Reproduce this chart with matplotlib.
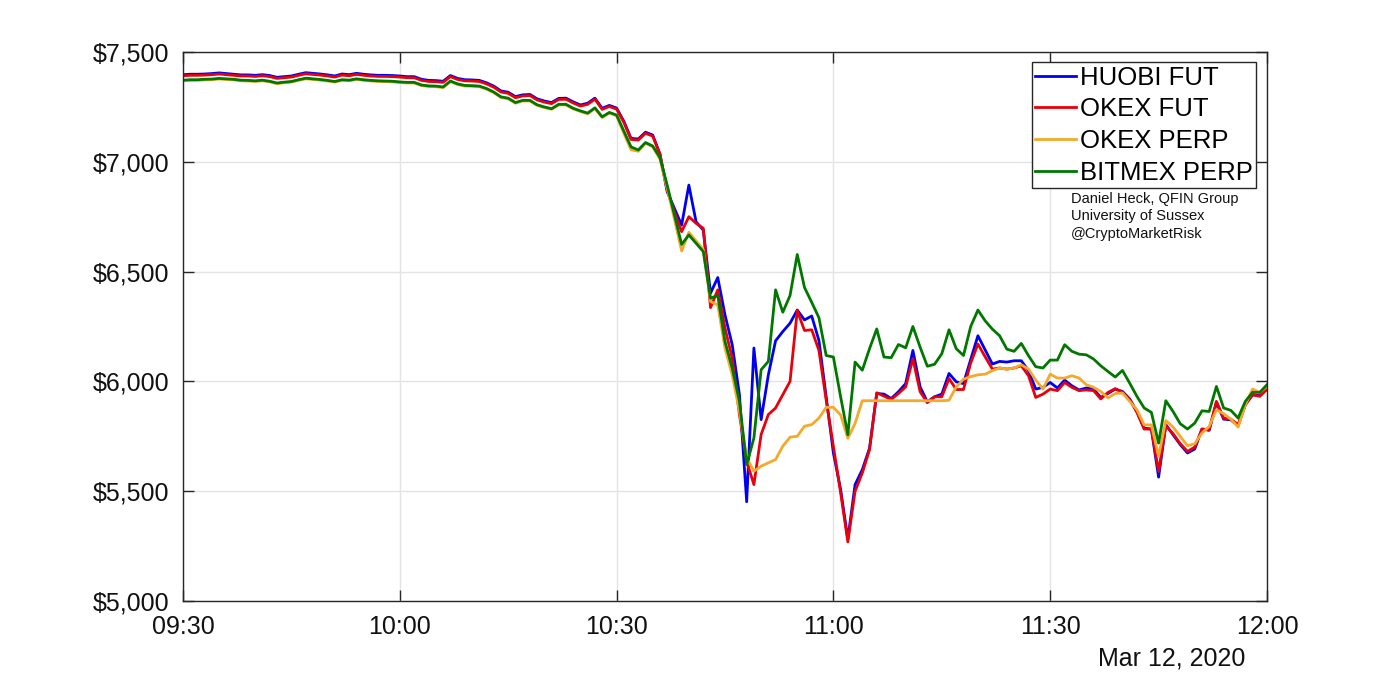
import matplotlib
matplotlib.use("Agg")
import matplotlib.pyplot as plt
import matplotlib.dates as mdates
import pandas as pd

plt.rcParams['font.family'] = ['Liberation Sans', 'DejaVu Sans']

start_time = "2020-03-12 09:30"
date_label = "Mar 12, 2020"
series_names = ["HUOBI FUT", "OKEX FUT", "OKEX PERP", "BITMEX PERP"]
y_ticks = [5000, 5500, 6000, 6500, 7000, 7500]
x_tick_labels = ["09:30", "10:00", "10:30", "11:00", "11:30", "12:00"]
credit_lines = ["Daniel Heck, QFIN Group", "University of Sussex", "@CryptoMarketRisk"]

huobi_fut = [
    7397, 7399, 7399, 7400, 7402, 7405, 7402, 7399, 7396, 7396,
    7394, 7397, 7393, 7385, 7388, 7391, 7399, 7406, 7403, 7400,
    7396, 7391, 7400, 7397, 7403, 7399, 7396, 7394, 7394, 7393,
    7391, 7388, 7388, 7376, 7371, 7370, 7367, 7393, 7380, 7374,
    7373, 7371, 7360, 7345, 7323, 7317, 7297, 7305, 7307, 7287,
    7277, 7270, 7289, 7290, 7273, 7259, 7267, 7290, 7244, 7257,
    7245, 7185, 7107, 7104, 7135, 7122, 7035, 6864, 6788, 6712,
    6894, 6727, 6689, 6402, 6473, 6303, 6167, 5939, 5452, 6152,
    5826, 6030, 6185, 6227, 6265, 6325, 6280, 6298, 6186, 5930,
    5674, 5508, 5282, 5530, 5598, 5696, 5945, 5942, 5922, 5953,
    5990, 6141, 5975, 5907, 5930, 5942, 6036, 5998, 5990, 6100,
    6208, 6143, 6079, 6091, 6088, 6094, 6094, 6049, 5965, 5973,
    5995, 5970, 6006, 5980, 5961, 5970, 5965, 5927, 5945, 5965,
    5954, 5920, 5863, 5787, 5783, 5564, 5803, 5757, 5712, 5674,
    5692, 5783, 5777, 5904, 5828, 5825, 5798, 5894, 5939, 5935,
    5965,
]

okex_fut = [
    7392, 7394, 7394, 7395, 7397, 7400, 7397, 7394, 7391, 7391,
    7389, 7392, 7388, 7380, 7383, 7386, 7394, 7401, 7398, 7395,
    7391, 7386, 7395, 7392, 7398, 7394, 7391, 7389, 7389, 7388,
    7386, 7383, 7383, 7371, 7366, 7365, 7362, 7388, 7375, 7369,
    7368, 7366, 7355, 7340, 7318, 7312, 7292, 7300, 7302, 7282,
    7272, 7265, 7284, 7285, 7268, 7254, 7262, 7285, 7239, 7252,
    7240, 7180, 7102, 7099, 7130, 7117, 7035, 6871, 6773, 6682,
    6750, 6720, 6697, 6336, 6417, 6243, 6106, 5849, 5636, 5530,
    5758, 5849, 5879, 5940, 6000, 6322, 6232, 6235, 6141, 5915,
    5704, 5493, 5269, 5500, 5583, 5689, 5948, 5933, 5918, 5945,
    5975, 6103, 5953, 5903, 5930, 5930, 6013, 5963, 5963, 6084,
    6170, 6112, 6056, 6061, 6056, 6061, 6071, 6026, 5927, 5942,
    5965, 5958, 5995, 5973, 5958, 5961, 5958, 5920, 5950, 5967,
    5950, 5917, 5859, 5783, 5783, 5590, 5798, 5762, 5716, 5681,
    5701, 5783, 5780, 5909, 5833, 5828, 5803, 5894, 5939, 5932,
    5965,
]

okex_perp = [
    7369, 7371, 7371, 7373, 7374, 7377, 7375, 7373, 7369, 7368,
    7366, 7369, 7364, 7356, 7360, 7363, 7371, 7378, 7375, 7372,
    7368, 7363, 7371, 7369, 7375, 7371, 7368, 7366, 7365, 7364,
    7361, 7359, 7359, 7347, 7343, 7342, 7338, 7365, 7352, 7345,
    7344, 7342, 7331, 7315, 7293, 7287, 7267, 7277, 7277, 7257,
    7247, 7239, 7259, 7259, 7241, 7229, 7219, 7243, 7202, 7222,
    7210, 7130, 7055, 7048, 7085, 7068, 7012, 6880, 6740, 6594,
    6679, 6640, 6600, 6364, 6348, 6152, 6030, 5864, 5652, 5591,
    5614, 5629, 5644, 5705, 5746, 5750, 5796, 5803, 5833, 5882,
    5882, 5847, 5741, 5809, 5912, 5912, 5912, 5912, 5912, 5912,
    5912, 5912, 5912, 5912, 5912, 5912, 5914, 5975, 6010, 6022,
    6030, 6033, 6049, 6061, 6056, 6061, 6076, 6056, 6006, 5965,
    6033, 6015, 6015, 6026, 6015, 5985, 5973, 5954, 5925, 5945,
    5947, 5909, 5871, 5802, 5802, 5658, 5822, 5792, 5749, 5707,
    5716, 5765, 5795, 5871, 5853, 5828, 5792, 5894, 5965, 5950,
    5977,
]

bitmex_perp = [
    7372, 7374, 7374, 7376, 7377, 7380, 7378, 7376, 7372, 7371,
    7369, 7372, 7367, 7359, 7363, 7366, 7374, 7381, 7378, 7375,
    7371, 7366, 7374, 7372, 7378, 7374, 7371, 7369, 7368, 7367,
    7364, 7362, 7362, 7350, 7346, 7345, 7341, 7368, 7355, 7348,
    7347, 7345, 7334, 7318, 7296, 7290, 7270, 7280, 7280, 7260,
    7250, 7242, 7262, 7262, 7244, 7232, 7222, 7246, 7205, 7225,
    7213, 7140, 7068, 7054, 7088, 7072, 7020, 6894, 6758, 6624,
    6667, 6629, 6591, 6379, 6391, 6182, 6061, 5909, 5621, 5742,
    6053, 6091, 6417, 6315, 6391, 6578, 6428, 6360, 6290, 6118,
    6111, 5930, 5757, 6088, 6051, 6149, 6239, 6111, 6108, 6168,
    6153, 6250, 6156, 6069, 6078, 6126, 6235, 6149, 6118, 6250,
    6325, 6276, 6238, 6208, 6147, 6137, 6173, 6117, 6067, 6061,
    6097, 6097, 6167, 6137, 6124, 6121, 6102, 6071, 6045, 6020,
    6050, 5992, 5932, 5879, 5859, 5719, 5912, 5863, 5807, 5783,
    5810, 5866, 5863, 5977, 5879, 5868, 5833, 5909, 5950, 5950,
    5985,
]

colors = ["#0000F0", "#E8000B", "#F5A92A", "#007800"]

times = pd.date_range(start_time, periods=len(huobi_fut), freq="min")

fig = plt.figure(figsize=(14, 6.76), dpi=100)
ax = fig.add_axes([0.1307, 0.111, 0.7743, 0.812])

for vals, name, col in zip([huobi_fut, okex_fut, okex_perp, bitmex_perp], series_names, colors):
    ax.plot(times, vals, color=col, lw=2.0, label=name)

ax.set_xlim(times[0], times[-1])
ax.set_ylim(y_ticks[0], y_ticks[-1])
ax.set_yticks(y_ticks)
ax.set_yticklabels(["${:,}".format(v) for v in y_ticks])
xt = pd.date_range(start_time, periods=len(x_tick_labels), freq="30min")
ax.set_xticks(xt)
ax.set_xticklabels(x_tick_labels)

ax.tick_params(axis="both", which="both", direction="in", top=True, right=True,
               length=8, width=1.0, color="#262626", labelsize=18, labelcolor="#111111")
ax.tick_params(axis="x", pad=10)
ax.tick_params(axis="y", pad=10)
ax.grid(True, color="#e3e3e3", lw=1.0)
ax.set_axisbelow(True)
for sp in ax.spines.values():
    sp.set_color("#262626")
    sp.set_linewidth(1.0)

ax.text(0.98, -0.083, date_label, transform=ax.transAxes, ha="right", va="top",
        fontsize=18, color="#111111")

leg = ax.legend(loc="upper right", bbox_to_anchor=(0.99, 0.981), fontsize=18.5,
                frameon=True, fancybox=False, edgecolor="#262626", framealpha=1.0,
                handlelength=1.6, handletextpad=0.15, labelspacing=0.3,
                borderpad=0.12, borderaxespad=0.0)
leg.get_frame().set_linewidth(1.0)

ax.text(0.819, 0.745, "\n".join(credit_lines), transform=ax.transAxes, ha="left", va="top",
        fontsize=10.5, color="#111111", linespacing=1.3)

fig.savefig("out.png", dpi=100, facecolor="white")
